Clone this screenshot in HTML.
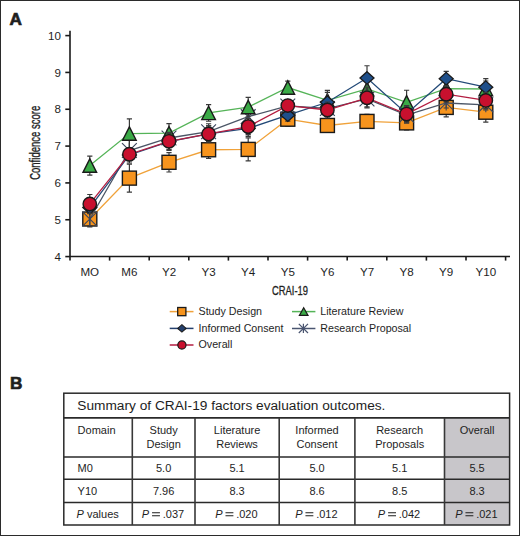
<!DOCTYPE html>
<html><head><meta charset="utf-8"><style>
html,body{margin:0;padding:0;background:#fff;}
body{width:520px;height:536px;overflow:hidden;position:relative;}
#frame{position:absolute;left:0;top:0;width:518px;height:534px;border:1px solid #2b2b2b;}
svg{position:absolute;left:0;top:0;}
text{font-family:"Liberation Sans",sans-serif;fill:#1e1e1e;}
.t11{font-size:11px;}
.t12{font-size:12.6px;}
.t13{font-size:13.7px;}
.t107{font-size:10.7px;}
.t115{font-size:11.6px;}
.lab{font-size:17.2px;font-weight:bold;stroke:#1e1e1e;stroke-width:0.7px;}
</style></head><body><div id="frame"></div>
<svg width="520" height="536" viewBox="0 0 520 536">
<g stroke="#1a1a1a" stroke-width="1.6" fill="none">
<path d="M70 30.8V260.5M70 256.5H510"/>
<path d="M65.3 256.58H70"/>
<path d="M65.3 219.75H70"/>
<path d="M65.3 182.92H70"/>
<path d="M65.3 146.09H70"/>
<path d="M65.3 109.26H70"/>
<path d="M65.3 72.43H70"/>
<path d="M65.3 35.60H70"/>
<path d="M109.60 256.5V260.6"/>
<path d="M149.20 256.5V260.6"/>
<path d="M188.80 256.5V260.6"/>
<path d="M228.40 256.5V260.6"/>
<path d="M268.00 256.5V260.6"/>
<path d="M307.60 256.5V260.6"/>
<path d="M347.20 256.5V260.6"/>
<path d="M386.80 256.5V260.6"/>
<path d="M426.40 256.5V260.6"/>
<path d="M466.00 256.5V260.6"/>
<path d="M505.60 256.5V260.6"/>
</g>
<text x="60.9" y="260.78" text-anchor="end" class="t115">4</text>
<text x="60.9" y="223.95" text-anchor="end" class="t115">5</text>
<text x="60.9" y="187.12" text-anchor="end" class="t115">6</text>
<text x="60.9" y="150.29" text-anchor="end" class="t115">7</text>
<text x="60.9" y="113.46" text-anchor="end" class="t115">8</text>
<text x="60.9" y="76.63" text-anchor="end" class="t115">9</text>
<text x="60.9" y="39.80" text-anchor="end" class="t115">10</text>
<text x="89.80" y="275.9" text-anchor="middle" class="t115">MO</text>
<text x="129.40" y="275.9" text-anchor="middle" class="t115">M6</text>
<text x="169.00" y="275.9" text-anchor="middle" class="t115">Y2</text>
<text x="208.60" y="275.9" text-anchor="middle" class="t115">Y3</text>
<text x="248.20" y="275.9" text-anchor="middle" class="t115">Y4</text>
<text x="287.80" y="275.9" text-anchor="middle" class="t115">Y5</text>
<text x="327.40" y="275.9" text-anchor="middle" class="t115">Y6</text>
<text x="367.00" y="275.9" text-anchor="middle" class="t115">Y7</text>
<text x="406.60" y="275.9" text-anchor="middle" class="t115">Y8</text>
<text x="446.20" y="275.9" text-anchor="middle" class="t115">Y9</text>
<text x="485.80" y="275.9" text-anchor="middle" class="t115">Y10</text>
<text transform="translate(40.4 142.8) rotate(-90) scale(0.68 1)" text-anchor="middle" style="font-size:14px;stroke:#1e1e1e;stroke-width:0.35px">Confidence score</text>
<text transform="translate(290 294.8) scale(0.745 1)" text-anchor="middle" class="t12" style="stroke:#1e1e1e;stroke-width:0.3px">CRAI-19</text>
<polyline points="89.80,219.01 129.40,178.13 169.00,162.30 208.60,149.77 248.20,149.40 287.80,119.20 327.40,125.47 367.00,121.41 406.60,122.89 446.20,107.42 485.80,112.21" fill="none" stroke="#f0a23a" stroke-width="1.3"/>
<path d="M89.80 211.01V227.01M87.20 211.01h5.2M87.20 227.01h5.2" stroke="#3a3a3a" stroke-width="1.2" fill="none"/>
<path d="M129.40 164.13V192.13M126.80 164.13h5.2M126.80 192.13h5.2" stroke="#3a3a3a" stroke-width="1.2" fill="none"/>
<path d="M169.00 152.60V172.00M166.40 152.60h5.2M166.40 172.00h5.2" stroke="#3a3a3a" stroke-width="1.2" fill="none"/>
<path d="M208.60 141.07V158.47M206.00 141.07h5.2M206.00 158.47h5.2" stroke="#3a3a3a" stroke-width="1.2" fill="none"/>
<path d="M248.20 137.90V160.90M245.60 137.90h5.2M245.60 160.90h5.2" stroke="#3a3a3a" stroke-width="1.2" fill="none"/>
<path d="M287.80 112.20V126.20M285.20 112.20h5.2M285.20 126.20h5.2" stroke="#3a3a3a" stroke-width="1.2" fill="none"/>
<path d="M327.40 118.47V132.47M324.80 118.47h5.2M324.80 132.47h5.2" stroke="#3a3a3a" stroke-width="1.2" fill="none"/>
<path d="M367.00 114.41V128.41M364.40 114.41h5.2M364.40 128.41h5.2" stroke="#3a3a3a" stroke-width="1.2" fill="none"/>
<path d="M406.60 115.89V129.89M404.00 115.89h5.2M404.00 129.89h5.2" stroke="#3a3a3a" stroke-width="1.2" fill="none"/>
<path d="M446.20 97.92V116.92M443.60 97.92h5.2M443.60 116.92h5.2" stroke="#3a3a3a" stroke-width="1.2" fill="none"/>
<path d="M485.80 102.21V122.21M483.20 102.21h5.2M483.20 122.21h5.2" stroke="#3a3a3a" stroke-width="1.2" fill="none"/>
<rect x="82.80" y="212.01" width="14.0" height="14.0" fill="#f7941d" stroke="#1a1a1a" stroke-width="1.4"/>
<rect x="122.40" y="171.13" width="14.0" height="14.0" fill="#f7941d" stroke="#1a1a1a" stroke-width="1.4"/>
<rect x="162.00" y="155.30" width="14.0" height="14.0" fill="#f7941d" stroke="#1a1a1a" stroke-width="1.4"/>
<rect x="201.60" y="142.77" width="14.0" height="14.0" fill="#f7941d" stroke="#1a1a1a" stroke-width="1.4"/>
<rect x="241.20" y="142.40" width="14.0" height="14.0" fill="#f7941d" stroke="#1a1a1a" stroke-width="1.4"/>
<rect x="280.80" y="112.20" width="14.0" height="14.0" fill="#f7941d" stroke="#1a1a1a" stroke-width="1.4"/>
<rect x="320.40" y="118.47" width="14.0" height="14.0" fill="#f7941d" stroke="#1a1a1a" stroke-width="1.4"/>
<rect x="360.00" y="114.41" width="14.0" height="14.0" fill="#f7941d" stroke="#1a1a1a" stroke-width="1.4"/>
<rect x="399.60" y="115.89" width="14.0" height="14.0" fill="#f7941d" stroke="#1a1a1a" stroke-width="1.4"/>
<rect x="439.20" y="100.42" width="14.0" height="14.0" fill="#f7941d" stroke="#1a1a1a" stroke-width="1.4"/>
<rect x="478.80" y="105.21" width="14.0" height="14.0" fill="#f7941d" stroke="#1a1a1a" stroke-width="1.4"/>
<polyline points="89.80,219.01 129.40,150.51 169.00,137.99 208.60,131.73 248.20,116.63 287.80,105.95 327.40,108.52 367.00,98.95 406.60,115.15 446.20,103.00 485.80,104.84" fill="none" stroke="#4b5566" stroke-width="1.3"/>
<path d="M89.80 212.01V226.01M87.20 212.01h5.2M87.20 226.01h5.2" stroke="#3a3a3a" stroke-width="1.2" fill="none"/>
<path d="M129.40 138.01V163.01M126.80 138.01h5.2M126.80 163.01h5.2" stroke="#3a3a3a" stroke-width="1.2" fill="none"/>
<path d="M169.00 129.99V145.99M166.40 129.99h5.2M166.40 145.99h5.2" stroke="#3a3a3a" stroke-width="1.2" fill="none"/>
<path d="M208.60 123.73V139.73M206.00 123.73h5.2M206.00 139.73h5.2" stroke="#3a3a3a" stroke-width="1.2" fill="none"/>
<path d="M248.20 108.63V124.63M245.60 108.63h5.2M245.60 124.63h5.2" stroke="#3a3a3a" stroke-width="1.2" fill="none"/>
<path d="M287.80 99.95V111.95M285.20 99.95h5.2M285.20 111.95h5.2" stroke="#3a3a3a" stroke-width="1.2" fill="none"/>
<path d="M327.40 100.52V116.52M324.80 100.52h5.2M324.80 116.52h5.2" stroke="#3a3a3a" stroke-width="1.2" fill="none"/>
<path d="M367.00 90.95V106.95M364.40 90.95h5.2M364.40 106.95h5.2" stroke="#3a3a3a" stroke-width="1.2" fill="none"/>
<path d="M406.60 107.15V123.15M404.00 107.15h5.2M404.00 123.15h5.2" stroke="#3a3a3a" stroke-width="1.2" fill="none"/>
<path d="M446.20 98.00V108.00M443.60 98.00h5.2M443.60 108.00h5.2" stroke="#3a3a3a" stroke-width="1.2" fill="none"/>
<path d="M485.80 99.84V109.84M483.20 99.84h5.2M483.20 109.84h5.2" stroke="#3a3a3a" stroke-width="1.2" fill="none"/>
<path d="M89.80 211.61V226.41M82.40 211.61L97.20 226.41M97.20 211.61L82.40 226.41" stroke="#3c475e" stroke-width="1.15" fill="none"/>
<path d="M129.40 143.11V157.91M122.00 143.11L136.80 157.91M136.80 143.11L122.00 157.91" stroke="#3c475e" stroke-width="1.15" fill="none"/>
<path d="M169.00 130.59V145.39M161.60 130.59L176.40 145.39M176.40 130.59L161.60 145.39" stroke="#3c475e" stroke-width="1.15" fill="none"/>
<path d="M208.60 124.33V139.13M201.20 124.33L216.00 139.13M216.00 124.33L201.20 139.13" stroke="#3c475e" stroke-width="1.15" fill="none"/>
<path d="M248.20 109.23V124.03M240.80 109.23L255.60 124.03M255.60 109.23L240.80 124.03" stroke="#3c475e" stroke-width="1.15" fill="none"/>
<path d="M287.80 98.55V113.35M280.40 98.55L295.20 113.35M295.20 98.55L280.40 113.35" stroke="#3c475e" stroke-width="1.15" fill="none"/>
<path d="M327.40 101.12V115.92M320.00 101.12L334.80 115.92M334.80 101.12L320.00 115.92" stroke="#3c475e" stroke-width="1.15" fill="none"/>
<path d="M367.00 91.55V106.35M359.60 91.55L374.40 106.35M374.40 91.55L359.60 106.35" stroke="#3c475e" stroke-width="1.15" fill="none"/>
<path d="M406.60 107.75V122.55M399.20 107.75L414.00 122.55M414.00 107.75L399.20 122.55" stroke="#3c475e" stroke-width="1.15" fill="none"/>
<path d="M446.20 95.60V110.40M438.80 95.60L453.60 110.40M453.60 95.60L438.80 110.40" stroke="#3c475e" stroke-width="1.15" fill="none"/>
<path d="M485.80 97.44V112.24M478.40 97.44L493.20 112.24M493.20 97.44L478.40 112.24" stroke="#3c475e" stroke-width="1.15" fill="none"/>
<polyline points="89.80,165.61 129.40,133.57 169.00,133.20 208.60,112.94 248.20,107.05 287.80,87.53 327.40,100.42 367.00,89.00 406.60,102.26 446.20,88.64 485.80,89.00" fill="none" stroke="#55b458" stroke-width="1.3"/>
<path d="M89.80 156.11V175.11M87.20 156.11h5.2M87.20 175.11h5.2" stroke="#3a3a3a" stroke-width="1.2" fill="none"/>
<path d="M129.40 118.87V148.27M126.80 118.87h5.2M126.80 148.27h5.2" stroke="#3a3a3a" stroke-width="1.2" fill="none"/>
<path d="M169.00 123.60V142.80M166.40 123.60h5.2M166.40 142.80h5.2" stroke="#3a3a3a" stroke-width="1.2" fill="none"/>
<path d="M208.60 104.64V121.24M206.00 104.64h5.2M206.00 121.24h5.2" stroke="#3a3a3a" stroke-width="1.2" fill="none"/>
<path d="M248.20 97.35V116.75M245.60 97.35h5.2M245.60 116.75h5.2" stroke="#3a3a3a" stroke-width="1.2" fill="none"/>
<path d="M287.80 81.03V94.03M285.20 81.03h5.2M285.20 94.03h5.2" stroke="#3a3a3a" stroke-width="1.2" fill="none"/>
<path d="M327.40 92.42V108.42M324.80 92.42h5.2M324.80 108.42h5.2" stroke="#3a3a3a" stroke-width="1.2" fill="none"/>
<path d="M367.00 80.00V98.00M364.40 80.00h5.2M364.40 98.00h5.2" stroke="#3a3a3a" stroke-width="1.2" fill="none"/>
<path d="M406.60 90.26V114.26M404.00 90.26h5.2M404.00 114.26h5.2" stroke="#3a3a3a" stroke-width="1.2" fill="none"/>
<path d="M446.20 80.64V96.64M443.60 80.64h5.2M443.60 96.64h5.2" stroke="#3a3a3a" stroke-width="1.2" fill="none"/>
<path d="M485.80 81.00V97.00M483.20 81.00h5.2M483.20 97.00h5.2" stroke="#3a3a3a" stroke-width="1.2" fill="none"/>
<path d="M89.80 158.91L96.60 172.31L83.00 172.31Z" fill="#3aaa46" stroke="#1a1a1a" stroke-width="1.4" stroke-linejoin="miter"/>
<path d="M129.40 126.87L136.20 140.27L122.60 140.27Z" fill="#3aaa46" stroke="#1a1a1a" stroke-width="1.4" stroke-linejoin="miter"/>
<path d="M169.00 126.50L175.80 139.90L162.20 139.90Z" fill="#3aaa46" stroke="#1a1a1a" stroke-width="1.4" stroke-linejoin="miter"/>
<path d="M208.60 106.24L215.40 119.64L201.80 119.64Z" fill="#3aaa46" stroke="#1a1a1a" stroke-width="1.4" stroke-linejoin="miter"/>
<path d="M248.20 100.35L255.00 113.75L241.40 113.75Z" fill="#3aaa46" stroke="#1a1a1a" stroke-width="1.4" stroke-linejoin="miter"/>
<path d="M287.80 80.83L294.60 94.23L281.00 94.23Z" fill="#3aaa46" stroke="#1a1a1a" stroke-width="1.4" stroke-linejoin="miter"/>
<path d="M327.40 93.72L334.20 107.12L320.60 107.12Z" fill="#3aaa46" stroke="#1a1a1a" stroke-width="1.4" stroke-linejoin="miter"/>
<path d="M367.00 82.30L373.80 95.70L360.20 95.70Z" fill="#3aaa46" stroke="#1a1a1a" stroke-width="1.4" stroke-linejoin="miter"/>
<path d="M406.60 95.56L413.40 108.96L399.80 108.96Z" fill="#3aaa46" stroke="#1a1a1a" stroke-width="1.4" stroke-linejoin="miter"/>
<path d="M446.20 81.94L453.00 95.34L439.40 95.34Z" fill="#3aaa46" stroke="#1a1a1a" stroke-width="1.4" stroke-linejoin="miter"/>
<path d="M485.80 82.30L492.60 95.70L479.00 95.70Z" fill="#3aaa46" stroke="#1a1a1a" stroke-width="1.4" stroke-linejoin="miter"/>
<polyline points="89.80,207.60 129.40,154.93 169.00,141.67 208.60,133.94 248.20,128.41 287.80,115.15 327.40,102.26 367.00,77.95 406.60,113.68 446.20,78.69 485.80,87.16" fill="none" stroke="#234a78" stroke-width="1.3"/>
<path d="M89.80 201.60V213.60M87.20 201.60h5.2M87.20 213.60h5.2" stroke="#3a3a3a" stroke-width="1.2" fill="none"/>
<path d="M129.40 148.93V160.93M126.80 148.93h5.2M126.80 160.93h5.2" stroke="#3a3a3a" stroke-width="1.2" fill="none"/>
<path d="M169.00 133.67V149.67M166.40 133.67h5.2M166.40 149.67h5.2" stroke="#3a3a3a" stroke-width="1.2" fill="none"/>
<path d="M208.60 125.94V141.94M206.00 125.94h5.2M206.00 141.94h5.2" stroke="#3a3a3a" stroke-width="1.2" fill="none"/>
<path d="M248.20 120.41V136.41M245.60 120.41h5.2M245.60 136.41h5.2" stroke="#3a3a3a" stroke-width="1.2" fill="none"/>
<path d="M287.80 109.15V121.15M285.20 109.15h5.2M285.20 121.15h5.2" stroke="#3a3a3a" stroke-width="1.2" fill="none"/>
<path d="M327.40 90.46V114.06M324.80 90.46h5.2M324.80 114.06h5.2" stroke="#3a3a3a" stroke-width="1.2" fill="none"/>
<path d="M367.00 65.75V90.15M364.40 65.75h5.2M364.40 90.15h5.2" stroke="#3a3a3a" stroke-width="1.2" fill="none"/>
<path d="M406.60 105.68V121.68M404.00 105.68h5.2M404.00 121.68h5.2" stroke="#3a3a3a" stroke-width="1.2" fill="none"/>
<path d="M446.20 71.39V85.99M443.60 71.39h5.2M443.60 85.99h5.2" stroke="#3a3a3a" stroke-width="1.2" fill="none"/>
<path d="M485.80 78.66V95.66M483.20 78.66h5.2M483.20 95.66h5.2" stroke="#3a3a3a" stroke-width="1.2" fill="none"/>
<path d="M89.80 201.30L96.80 207.60L89.80 213.90L82.80 207.60Z" fill="#1f4f8a" stroke="#1a1a1a" stroke-width="1.3"/>
<path d="M129.40 148.63L136.40 154.93L129.40 161.23L122.40 154.93Z" fill="#1f4f8a" stroke="#1a1a1a" stroke-width="1.3"/>
<path d="M169.00 135.37L176.00 141.67L169.00 147.97L162.00 141.67Z" fill="#1f4f8a" stroke="#1a1a1a" stroke-width="1.3"/>
<path d="M208.60 127.64L215.60 133.94L208.60 140.24L201.60 133.94Z" fill="#1f4f8a" stroke="#1a1a1a" stroke-width="1.3"/>
<path d="M248.20 122.11L255.20 128.41L248.20 134.71L241.20 128.41Z" fill="#1f4f8a" stroke="#1a1a1a" stroke-width="1.3"/>
<path d="M287.80 108.85L294.80 115.15L287.80 121.45L280.80 115.15Z" fill="#1f4f8a" stroke="#1a1a1a" stroke-width="1.3"/>
<path d="M327.40 95.96L334.40 102.26L327.40 108.56L320.40 102.26Z" fill="#1f4f8a" stroke="#1a1a1a" stroke-width="1.3"/>
<path d="M367.00 71.65L374.00 77.95L367.00 84.25L360.00 77.95Z" fill="#1f4f8a" stroke="#1a1a1a" stroke-width="1.3"/>
<path d="M406.60 107.38L413.60 113.68L406.60 119.98L399.60 113.68Z" fill="#1f4f8a" stroke="#1a1a1a" stroke-width="1.3"/>
<path d="M446.20 72.39L453.20 78.69L446.20 84.99L439.20 78.69Z" fill="#1f4f8a" stroke="#1a1a1a" stroke-width="1.3"/>
<path d="M485.80 80.86L492.80 87.16L485.80 93.46L478.80 87.16Z" fill="#1f4f8a" stroke="#1a1a1a" stroke-width="1.3"/>
<polyline points="89.80,203.91 129.40,154.19 169.00,141.30 208.60,133.94 248.20,126.57 287.80,105.58 327.40,110.00 367.00,97.84 406.60,114.05 446.20,94.16 485.80,100.42" fill="none" stroke="#b31d40" stroke-width="1.3"/>
<path d="M89.80 194.51V213.31M87.20 194.51h5.2M87.20 213.31h5.2" stroke="#3a3a3a" stroke-width="1.2" fill="none"/>
<path d="M129.40 148.19V160.19M126.80 148.19h5.2M126.80 160.19h5.2" stroke="#3a3a3a" stroke-width="1.2" fill="none"/>
<path d="M169.00 132.30V150.30M166.40 132.30h5.2M166.40 150.30h5.2" stroke="#3a3a3a" stroke-width="1.2" fill="none"/>
<path d="M208.60 125.94V141.94M206.00 125.94h5.2M206.00 141.94h5.2" stroke="#3a3a3a" stroke-width="1.2" fill="none"/>
<path d="M248.20 118.57V134.57M245.60 118.57h5.2M245.60 134.57h5.2" stroke="#3a3a3a" stroke-width="1.2" fill="none"/>
<path d="M287.80 99.58V111.58M285.20 99.58h5.2M285.20 111.58h5.2" stroke="#3a3a3a" stroke-width="1.2" fill="none"/>
<path d="M327.40 102.00V118.00M324.80 102.00h5.2M324.80 118.00h5.2" stroke="#3a3a3a" stroke-width="1.2" fill="none"/>
<path d="M367.00 87.84V107.84M364.40 87.84h5.2M364.40 107.84h5.2" stroke="#3a3a3a" stroke-width="1.2" fill="none"/>
<path d="M406.60 106.05V122.05M404.00 106.05h5.2M404.00 122.05h5.2" stroke="#3a3a3a" stroke-width="1.2" fill="none"/>
<path d="M446.20 86.16V102.16M443.60 86.16h5.2M443.60 102.16h5.2" stroke="#3a3a3a" stroke-width="1.2" fill="none"/>
<path d="M485.80 92.42V108.42M483.20 92.42h5.2M483.20 108.42h5.2" stroke="#3a3a3a" stroke-width="1.2" fill="none"/>
<circle cx="89.80" cy="203.91" r="6.7" fill="#c8102e" stroke="#1a1a1a" stroke-width="1.4"/>
<circle cx="129.40" cy="154.19" r="6.7" fill="#c8102e" stroke="#1a1a1a" stroke-width="1.4"/>
<circle cx="169.00" cy="141.30" r="6.7" fill="#c8102e" stroke="#1a1a1a" stroke-width="1.4"/>
<circle cx="208.60" cy="133.94" r="6.7" fill="#c8102e" stroke="#1a1a1a" stroke-width="1.4"/>
<circle cx="248.20" cy="126.57" r="6.7" fill="#c8102e" stroke="#1a1a1a" stroke-width="1.4"/>
<circle cx="287.80" cy="105.58" r="6.7" fill="#c8102e" stroke="#1a1a1a" stroke-width="1.4"/>
<circle cx="327.40" cy="110.00" r="6.7" fill="#c8102e" stroke="#1a1a1a" stroke-width="1.4"/>
<circle cx="367.00" cy="97.84" r="6.7" fill="#c8102e" stroke="#1a1a1a" stroke-width="1.4"/>
<circle cx="406.60" cy="114.05" r="6.7" fill="#c8102e" stroke="#1a1a1a" stroke-width="1.4"/>
<circle cx="446.20" cy="94.16" r="6.7" fill="#c8102e" stroke="#1a1a1a" stroke-width="1.4"/>
<circle cx="485.80" cy="100.42" r="6.7" fill="#c8102e" stroke="#1a1a1a" stroke-width="1.4"/>
<path d="M169.7 311.6H193.5" stroke="#f0a23a" stroke-width="1.5"/>
<rect x="177.70" y="307.50" width="8.2" height="8.2" fill="#f7941d" stroke="#1a1a1a" stroke-width="1.3"/>
<text x="198.5" y="314.8" class="t107">Study Design</text>
<path d="M169.7 328.4H193.5" stroke="#24406e" stroke-width="1.5"/>
<path d="M181.90 324.70L186.10 328.40L181.90 332.10L177.70 328.40Z" fill="#24406e" stroke="#1a1a1a" stroke-width="1.1"/>
<text x="198.5" y="331.8" class="t107">Informed Consent</text>
<path d="M169.7 345H193.5" stroke="#b31d40" stroke-width="1.5"/>
<circle cx="181.90" cy="345.00" r="4.1" fill="#c8102e" stroke="#1a1a1a" stroke-width="1.2"/>
<text x="198.5" y="348.3" class="t107">Overall</text>
<path d="M292 311.6H315.4" stroke="#55b458" stroke-width="1.5"/>
<path d="M303.70 307.80L308.00 315.40L299.40 315.40Z" fill="#3aaa46" stroke="#1a1a1a" stroke-width="1.2" stroke-linejoin="miter"/>
<text x="320.3" y="314.8" class="t107">Literature Review</text>
<path d="M292 328.5H315.4" stroke="#4a5570" stroke-width="1.5"/>
<path d="M303.40 323.80V333.00M298.80 323.80L308.00 333.00M308.00 323.80L298.80 333.00" stroke="#4a5570" stroke-width="1.2" fill="none"/>
<text x="320.3" y="331.8" class="t107">Research Proposal</text>
<text x="9.6" y="24.6" class="lab">A</text>
<text x="9.9" y="388.7" class="lab">B</text>
<rect x="444.5" y="417.9" width="65.10000000000002" height="107.10000000000002" fill="#c8c6ca"/>
<g stroke="#2a2a2a" stroke-width="1.5" fill="none">
<rect x="63.8" y="393.2" width="445.8" height="131.8"/>
<path d="M63.8 457H509.6"/>
<path d="M63.8 479.3H509.6"/>
<path d="M63.8 502.4H509.6"/>
<path d="M63.8 417.9H509.6" stroke-width="1.9"/>
<path d="M132.3 417.9V525" stroke="#383838" stroke-width="1.6"/>
<path d="M195 417.9V525" stroke="#383838" stroke-width="1.6"/>
<path d="M279.2 417.9V525" stroke="#383838" stroke-width="1.6"/>
<path d="M354.9 417.9V525" stroke="#383838" stroke-width="1.6"/>
<path d="M444.5 417.9V525" stroke="#383838" stroke-width="1.6"/>
</g>
<text x="77.3" y="409.6" class="t13">Summary of CRAI-19 factors evaluation outcomes.</text>
<text x="77.6" y="434.4" class="t11">Domain</text>
<text x="163.65" y="434.4" text-anchor="middle" class="t11">Study</text>
<text x="163.65" y="448.3" text-anchor="middle" class="t11">Design</text>
<text x="237.10" y="434.4" text-anchor="middle" class="t11">Literature</text>
<text x="237.10" y="448.3" text-anchor="middle" class="t11">Reviews</text>
<text x="317.05" y="434.4" text-anchor="middle" class="t11">Informed</text>
<text x="317.05" y="448.3" text-anchor="middle" class="t11">Consent</text>
<text x="399.70" y="434.4" text-anchor="middle" class="t11">Research</text>
<text x="399.70" y="448.3" text-anchor="middle" class="t11">Proposals</text>
<text x="477.05" y="434.4" text-anchor="middle" class="t11">Overall</text>
<text x="77.6" y="472.0" class="t11">M0</text>
<text x="163.65" y="472.0" text-anchor="middle" class="t11">5.0</text>
<text x="237.10" y="472.0" text-anchor="middle" class="t11">5.1</text>
<text x="317.05" y="472.0" text-anchor="middle" class="t11">5.0</text>
<text x="399.70" y="472.0" text-anchor="middle" class="t11">5.1</text>
<text x="477.05" y="472.0" text-anchor="middle" class="t11">5.5</text>
<text x="77.6" y="494.8" class="t11">Y10</text>
<text x="163.65" y="494.8" text-anchor="middle" class="t11">7.96</text>
<text x="237.10" y="494.8" text-anchor="middle" class="t11">8.3</text>
<text x="317.05" y="494.8" text-anchor="middle" class="t11">8.6</text>
<text x="399.70" y="494.8" text-anchor="middle" class="t11">8.5</text>
<text x="477.05" y="494.8" text-anchor="middle" class="t11">8.3</text>
<text x="76.6" y="517.5" class="t11"><tspan font-style="italic">P</tspan> values</text>
<text x="141.75" y="517.6" class="t11" font-style="italic">P</text>
<path d="M152.05 512.8h7.9M152.05 515.7h7.9" stroke="#1e1e1e" stroke-width="1.05"/>
<text x="162.75" y="517.6" class="t11">.037</text>
<text x="215.20" y="517.6" class="t11" font-style="italic">P</text>
<path d="M225.50 512.8h7.9M225.50 515.7h7.9" stroke="#1e1e1e" stroke-width="1.05"/>
<text x="236.20" y="517.6" class="t11">.020</text>
<text x="295.15" y="517.6" class="t11" font-style="italic">P</text>
<path d="M305.45 512.8h7.9M305.45 515.7h7.9" stroke="#1e1e1e" stroke-width="1.05"/>
<text x="316.15" y="517.6" class="t11">.012</text>
<text x="377.80" y="517.6" class="t11" font-style="italic">P</text>
<path d="M388.10 512.8h7.9M388.10 515.7h7.9" stroke="#1e1e1e" stroke-width="1.05"/>
<text x="398.80" y="517.6" class="t11">.042</text>
<text x="455.15" y="517.6" class="t11" font-style="italic">P</text>
<path d="M465.45 512.8h7.9M465.45 515.7h7.9" stroke="#1e1e1e" stroke-width="1.05"/>
<text x="476.15" y="517.6" class="t11">.021</text>
</svg></body></html>
